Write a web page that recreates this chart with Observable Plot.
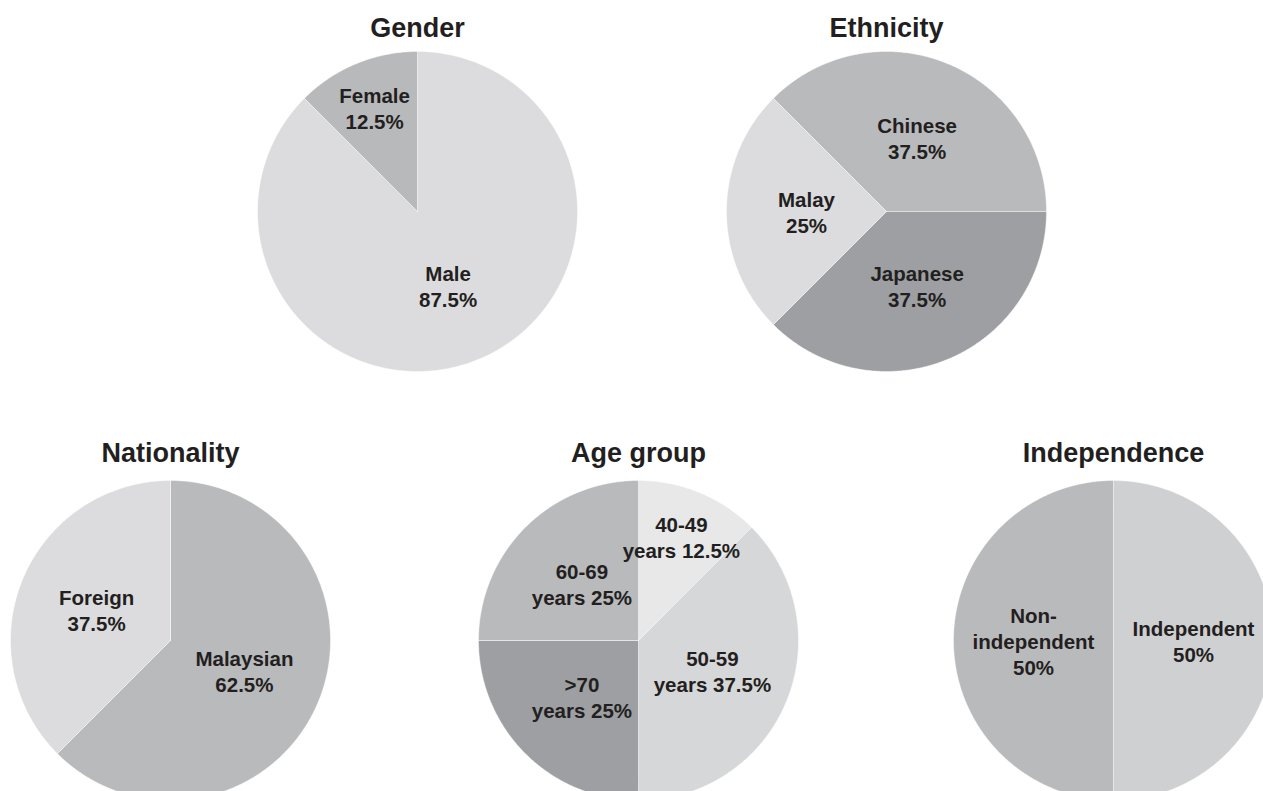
<!DOCTYPE html>
<html>
<head>
<meta charset="utf-8">
<script src="https://cdn.jsdelivr.net/npm/d3@7"></script>
<script src="https://cdn.jsdelivr.net/npm/@observablehq/plot@0.6"></script>
<style>
  body { margin: 0; background: #fff; }
  #chart svg { display: block; }
</style>
</head>
<body>
<div id="chart"></div>
<script>
// ---- Data ----
const genderCategories = ["Male", "Female"];
const genderValues = [87.5, 12.5];

const ethnicityCategories = ["Chinese", "Japanese", "Malay"];
const ethnicityValues = [37.5, 37.5, 25];

const nationalityCategories = ["Malaysian", "Foreign"];
const nationalityValues = [62.5, 37.5];

const ageCategories = ["40-49\nyears", "50-59\nyears", ">70\nyears", "60-69\nyears"];
const ageValues = [12.5, 37.5, 25, 25];

const independenceCategories = ["Independent", "Non-\nindependent"];
const independenceValues = [50, 50];

const pies = [
  {title: "Gender", categories: genderCategories, values: genderValues},
  {title: "Ethnicity", categories: ethnicityCategories, values: ethnicityValues},
  {title: "Nationality", categories: nationalityCategories, values: nationalityValues},
  {title: "Age group", categories: ageCategories, values: ageValues},
  {title: "Independence", categories: independenceCategories, values: independenceValues}
];

// ---- Layout & style (not data) ----
const R = 160;
const layout = {
  "Gender":       {cx: 417,  cy: 211, start: 0,   sep: "\n", titleGap: 23, colors: ["#dcdcde", "#b8b9bb"]},
  "Ethnicity":    {cx: 886,  cy: 211, start: -45, sep: "\n", titleGap: 23, colors: ["#b9babc", "#9d9fa2", "#dcdcde"]},
  "Nationality":  {cx: 170,  cy: 640, start: 0,   sep: "\n", titleGap: 27, colors: ["#b9babc", "#dcdcde"]},
  "Age group":    {cx: 638,  cy: 640, start: 0,   sep: " ",  titleGap: 27, colors: ["#e8e8e9", "#d6d7d8", "#9d9fa2", "#b9babc"]},
  "Independence": {cx: 1113, cy: 640, start: 0,   sep: "\n", titleGap: 27, colors: ["#cfd0d2", "#b9babc"]}
};

const slicePts = [], labelPts = [], titlePts = [];
for (const p of pies) {
  const L = layout[p.title];
  const a0 = L.start * Math.PI / 180;
  const arcs = d3.pie().sort(null).startAngle(a0).endAngle(a0 + 2 * Math.PI)(p.values);
  arcs.forEach((a, i) => {
    const id = p.title + "|" + i;
    const fill = L.colors[i];
    const n = Math.max(2, Math.ceil((a.endAngle - a.startAngle) / (Math.PI / 360)));
    slicePts.push({id, fill, x: L.cx, y: L.cy});
    for (let k = 0; k <= n; k++) {
      const t = a.startAngle + (a.endAngle - a.startAngle) * k / n;
      slicePts.push({id, fill, x: L.cx + R * Math.sin(t), y: L.cy - R * Math.cos(t)});
    }
    slicePts.push({id, fill, x: L.cx, y: L.cy});
    const mid = (a.startAngle + a.endAngle) / 2;
    const share = (a.endAngle - a.startAngle) / (2 * Math.PI);
    const lr = R * (share < 0.15 ? 0.7 : 0.5);
    labelPts.push({
      x: L.cx + lr * Math.sin(mid),
      y: L.cy - lr * Math.cos(mid),
      text: p.categories[i] + L.sep + p.values[i] + "%"
    });
  });
  titlePts.push({x: L.cx, y: L.cy - R - L.titleGap, text: p.title});
}

const chart = Plot.plot({
  width: 1263,
  height: 791,
  margin: 0,
  style: {fontFamily: "'Liberation Sans', Arial, sans-serif", background: "#fff"},
  x: {domain: [0, 1263], range: [0, 1263], axis: null},
  y: {domain: [0, 791], range: [0, 791], axis: null},
  color: {type: "identity"},
  marks: [
    Plot.line(slicePts, {
      x: "x", y: "y", z: "id", fill: "fill",
      stroke: "#ffffff", strokeWidth: 0.8, strokeOpacity: 0.55, curve: "linear"
    }),
    Plot.text(labelPts, {
      x: "x", y: "y", text: "text",
      fontSize: 20.5, fontWeight: "bold", fill: "#231f20",
      lineHeight: 1.27, textAnchor: "middle", lineAnchor: "middle",
      fontFamily: "'Liberation Sans', Arial, sans-serif"
    }),
    Plot.text(titlePts, {
      x: "x", y: "y", text: "text",
      fontSize: 27, fontWeight: "bold", fill: "#231f20",
      textAnchor: "middle", lineAnchor: "middle",
      fontFamily: "'Liberation Sans', Arial, sans-serif"
    })
  ]
});
document.getElementById("chart").appendChild(chart);
</script>
</body>
</html>
